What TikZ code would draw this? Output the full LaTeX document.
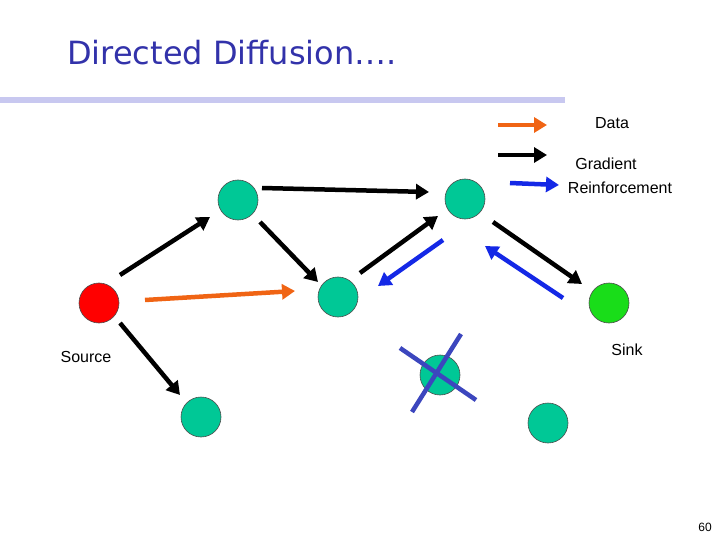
\documentclass[tikz,border=0pt]{standalone}
\usepackage{fontspec}
\setmainfont{Liberation Sans}
\newfontfamily\ttlfont{DejaVu Sans}
\usetikzlibrary{arrows.meta}
\definecolor{teal1}{RGB}{0,200,150}
\definecolor{org}{RGB}{240,100,20}
\definecolor{blu}{RGB}{20,40,230}
\definecolor{xb}{RGB}{60,70,190}
\definecolor{ttl}{RGB}{50,50,170}
\definecolor{lav}{RGB}{200,200,240}
\begin{document}
\begin{tikzpicture}[x=1pt,y=-1pt,
  nd/.style={circle,draw=black!70,line width=0.6pt,minimum size=40pt,inner sep=0pt},
  ar/.style={line width=4.5pt,-{Triangle[length=13pt,width=15pt]}},
  lb/.style={font=\fontsize{16pt}{19pt}\selectfont}]
\useasboundingbox (0,0) rectangle (720,540);
\node[anchor=west,text=ttl,font=\ttlfont\fontsize{32pt}{38pt}\selectfont,inner sep=0pt] (title) at (67,53) {Directed Diffusion….};
\draw[lav,line width=6pt] (0,100) -- (565,100);
\node[nd,fill=red] (src) at (99,303) {};
\node[nd,fill=teal1] (n1) at (238,200) {};
\node[nd,fill=teal1] (n2) at (338,297) {};
\node[nd,fill=teal1] (n3) at (465,199) {};
\node[nd,fill=green!85!black!90] (sink) at (609,303) {};
\node[nd,fill=teal1] (n4) at (201,417) {};
\node[nd,fill=teal1] (n5) at (440,375) {};
\node[nd,fill=teal1] (n6) at (548,423) {};
\coordinate (a1) at (120,275); \coordinate (b1) at (210,217);
\coordinate (a2) at (262,188); \coordinate (b2) at (429,192);
\coordinate (a3) at (260,222); \coordinate (b3) at (318,282);
\coordinate (a4) at (360,273); \coordinate (b4) at (438,216);
\coordinate (a5) at (493,222); \coordinate (b5) at (582,284);
\coordinate (a6) at (120,323); \coordinate (b6) at (180,395);
\draw[ar,black] (a1) -- (b1);
\draw[ar,black] (a2) -- (b2);
\draw[ar,black] (a3) -- (b3);
\draw[ar,black] (a4) -- (b4);
\draw[ar,black] (a5) -- (b5);
\draw[ar,black] (a6) -- (b6);
\coordinate (a7) at (145,300); \coordinate (b7) at (295,291);
\draw[ar,org] (a7) -- (b7);
\coordinate (a8) at (443,240); \coordinate (b8) at (378,286);
\draw[ar,blu] (a8) -- (b8);
\coordinate (a9) at (563,298); \coordinate (b9) at (485,246);
\draw[ar,blu] (a9) -- (b9);
\coordinate (x1) at (400,348); \coordinate (x2) at (476,400);
\coordinate (x3) at (461,334); \coordinate (x4) at (412,412);
\draw[xb,line width=4.5pt] (x1) -- (x2);
\draw[xb,line width=4.5pt] (x3) -- (x4);
\coordinate (l1a) at (498,125); \coordinate (l1b) at (547,125);
\coordinate (l2a) at (498,155); \coordinate (l2b) at (547,155);
\coordinate (l3a) at (510,183); \coordinate (l3b) at (559,185);
\draw[ar,org] (l1a) -- (l1b);
\draw[ar,black] (l2a) -- (l2b);
\draw[ar,blu] (l3a) -- (l3b);
\node[lb] (t1) at (612,123) {Data};
\node[lb] (t2) at (606,164) {Gradient};
\node[lb] (t3) at (620,188) {Reinforcement};
\node[lb] (t4) at (86,357) {Source};
\node[lb] (t5) at (627,350) {Sink};
\node[font=\fontsize{12pt}{14pt}\selectfont] (pg) at (705,527) {60};
\end{tikzpicture}
\end{document}
